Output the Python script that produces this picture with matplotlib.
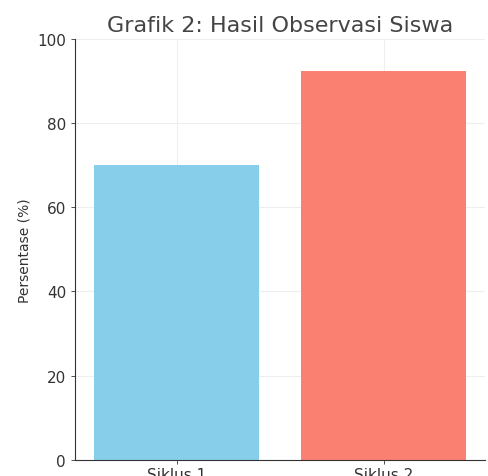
import matplotlib
matplotlib.use("Agg")
import matplotlib.pyplot as plt

# data
siklus = ["Siklus 1", "Siklus 2"]
persen = [70, 92.5]
warna = ["skyblue", "salmon"]

fig = plt.figure(figsize=(4.88, 4.77), dpi=100)
ax = fig.add_axes([0.154, 0.034, 0.84, 0.882])

ax.bar(siklus, persen, color=warna, width=0.8, zorder=2)
ax.set_ylim(0, 100)
ax.set_yticks([0, 20, 40, 60, 80, 100])
ax.grid(True, color="#eeeeee", linewidth=0.8, zorder=0)

ax.set_title("Grafik 2: Hasil Observasi Siswa", fontsize=16, color="#444444", pad=6)
ax.set_ylabel("Persentase (%)", fontsize=10, color="#333333")

for s in ["top", "right"]:
    ax.spines[s].set_visible(False)
for s in ["left", "bottom"]:
    ax.spines[s].set_color("#333333")
ax.tick_params(axis="both", labelsize=11, colors="#333333", length=3, width=0.6)
ax.tick_params(axis="x", pad=2)

fig.savefig("out.png", dpi=100)
